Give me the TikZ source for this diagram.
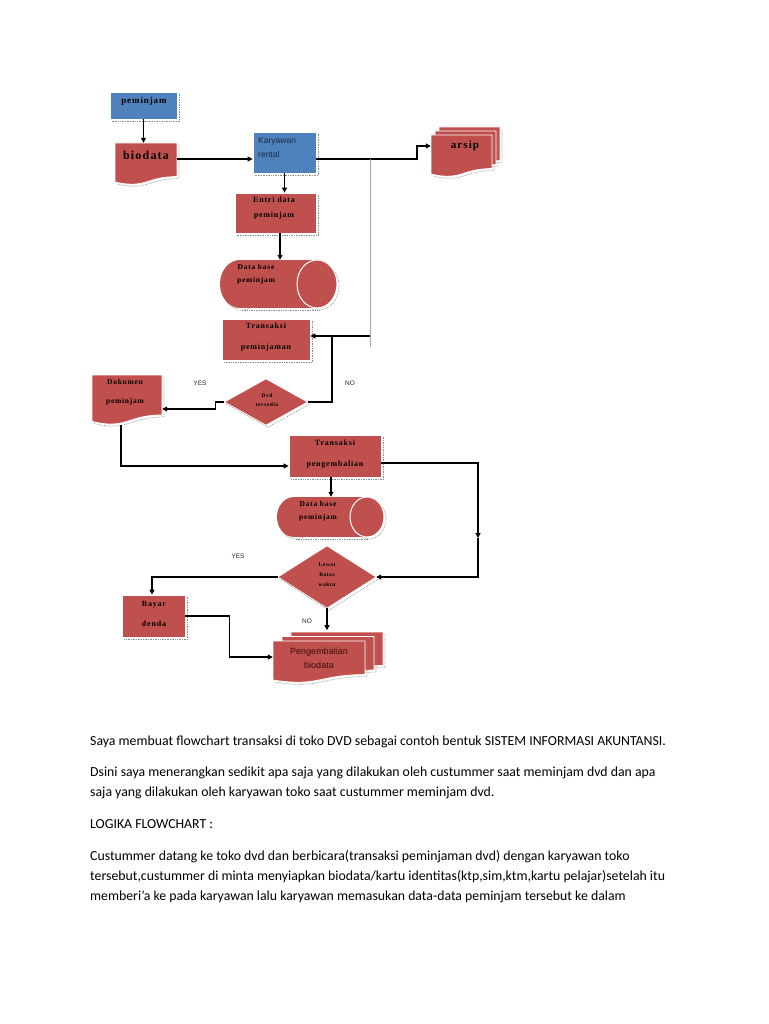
\documentclass[tikz,border=0pt]{standalone}
\usepackage{fontspec}
\setmainfont{Carlito}
\newfontfamily\dserif[LetterSpace=10]{Liberation Serif}
\newfontfamily\dsans{Liberation Sans}
\usetikzlibrary{arrows.meta,calc}
\definecolor{dred}{HTML}{C0504D}
\definecolor{dblue}{HTML}{4F81BD}
\definecolor{shadc}{HTML}{8C8C8C}
\definecolor{kartxt}{HTML}{1C2B45}
\definecolor{pengtxt}{HTML}{3C0C0C}

\newcommand\docshape[4]{%
  \draw[shad] ({#1+2+#3},{#2+2}) -- ({#1+2+#3},{#2+2+0.80*#4}) .. controls ({#1+2+0.5*#3},{#2+2+0.80*#4}) and ({#1+2+0.5*#3},{#2+2+1.10*#4}) .. ({#1+2},{#2+2+0.93*#4});
  \filldraw[fill=dred, draw=white, line width=0.8pt] (#1,#2) -- ({#1+#3},#2) -- ({#1+#3},{#2+0.80*#4}) .. controls ({#1+0.5*#3},{#2+0.80*#4}) and ({#1+0.5*#3},{#2+1.10*#4}) .. (#1,{#2+0.93*#4}) -- cycle;}

\newcommand\cylshape[5]{%
  \pgfmathsetmacro\cylL{#1+#5}\pgfmathsetmacro\cylR{#1+#3-#5}%
  \pgfmathsetmacro\cylM{#2+#4/2}\pgfmathsetmacro\cylH{#4/2}\pgfmathsetmacro\cylB{#2+#4}%
  \draw[shad] (\cylR+2,\cylM+2) ellipse [x radius=#5pt, y radius=\cylH pt];
  \draw[shad] (\cylL+2,\cylM+2) ellipse [x radius=#5pt, y radius=\cylH pt];
  \draw[shad] (\cylL+2,\cylB+2) -- (\cylR+2,\cylB+2);
  \fill[dred] (\cylL,#2) rectangle (\cylR,\cylB);
  \fill[dred] (\cylL,\cylM) ellipse [x radius=#5pt, y radius=\cylH pt];
  \filldraw[fill=dred, draw=white, line width=1pt] (\cylR,\cylM) ellipse [x radius=#5pt, y radius=\cylH pt];}

\newcommand\rshadow[1]{\draw[shad] ([xshift=2pt,yshift=-2pt]#1.north east) -- ([xshift=2pt,yshift=-2pt]#1.south east) -- ([xshift=2pt,yshift=-2pt]#1.south west);}
\newcommand\dshadow[1]{\draw[shad] ([xshift=2pt,yshift=-2pt]#1.west) -- ([xshift=2pt,yshift=-2pt]#1.south) -- ([xshift=2pt,yshift=-2pt]#1.east);}

\begin{document}
\begin{tikzpicture}[x=1pt,y=-1pt,
  shad/.style={draw=shadc, densely dotted, line width=0.7pt},
  rbox/.style={rectangle, inner sep=0pt, draw=white, line width=0.8pt},
  area/.style={rectangle, inner sep=0pt},
  tx/.style={inner sep=0pt, align=center, text=black},
  lbl/.style={inner sep=0pt, text=black!85, font=\dsans\fontsize{6.5}{7}\selectfont},
  ln/.style={line width=1.1pt, draw=black},
  arr/.style={ln, -{Triangle[length=5pt,width=5pt]}},
  body/.style={inner sep=0pt, anchor=base west, font=\fontsize{13.8}{16}\selectfont}]
\fill[white] (0,0) rectangle (768,1024);
\path[use as bounding box] (0,0) rectangle (768,1024);

% peminjam
\node[rbox, fill=dblue, minimum width=67, minimum height=27] (pem) at (143.5,105.5) {};
\rshadow{pem}
\node[tx, font=\dserif\bfseries\fontsize{9}{10}\selectfont] (pemt) at (144,101) {peminjam};

% biodata
\docshape{115}{143}{62}{42}
\node[area, minimum width=62, minimum height=42] (bio) at (146,164) {};
\node[tx, font=\dserif\bfseries\fontsize{12}{13}\selectfont] (biot) at (146,155) {biodata};

% Karyawan rental
\node[rbox, fill=dblue, minimum width=63, minimum height=41] (kar) at (284.5,152.5) {};
\rshadow{kar}
\node[tx, align=left, anchor=west, text=kartxt, font=\dsans\fontsize{8.5}{14}\selectfont] (kart) at (258,148) {Karyawan\\rental};

% arsip
\docshape{439}{127}{61}{42}
\docshape{435}{131}{61}{42}
\docshape{431}{135}{61}{42}
\node[area, minimum width=61, minimum height=42] (arsip) at (461.5,156) {};
\node[tx, font=\dserif\bfseries\fontsize{11}{12}\selectfont] (arsipt) at (465,146) {arsip};

% Entri data
\node[rbox, fill=dred, minimum width=81, minimum height=40] (ent) at (275.5,213) {};
\rshadow{ent}
\node[tx, font=\dserif\bfseries\fontsize{8}{15}\selectfont] (entt) at (274,208.5) {Entri data\\peminjam};

% Data base 1
\cylshape{220}{260}{117}{48}{20}
\node[area, minimum width=117, minimum height=48] (db1) at (278.5,284) {};
\node[tx, font=\dserif\bfseries\fontsize{7.5}{13}\selectfont] (db1t) at (256,274.5) {Data base\\peminjam};

% Transaksi peminjaman
\node[rbox, fill=dred, minimum width=88, minimum height=41] (trp) at (266,339.5) {};
\rshadow{trp}
\node[tx, font=\dserif\bfseries\fontsize{8}{21}\selectfont] (trpt) at (266,337.5) {Transaksi\\peminjaman};

% decision 1
\node[area, minimum width=83, minimum height=46] (d1) at (266,402) {};
\filldraw[fill=dred, draw=white, line width=0.8pt] (d1.north) -- (d1.east) -- (d1.south) -- (d1.west) -- cycle;
\dshadow{d1}
\node[tx, font=\dserif\bfseries\fontsize{5.5}{9}\selectfont] (d1t) at (267,400.5) {Dvd\\tersedia};

% Dokumen peminjam
\docshape{92}{375}{70}{50}
\node[area, minimum width=70, minimum height=50] (dok) at (127,400) {};
\node[tx, font=\dserif\bfseries\fontsize{7.5}{19}\selectfont] (dokt) at (125,392.5) {Dokumen\\peminjam};

% Transaksi pengembalian
\node[rbox, fill=dred, minimum width=92, minimum height=42] (tpg) at (335,456) {};
\rshadow{tpg}
\node[tx, font=\dserif\bfseries\fontsize{8}{21}\selectfont] (tpgt) at (335,454.5) {Transaksi\\pengembalian};

% Data base 2
\cylshape{277}{497}{107}{40}{17}
\node[area, minimum width=107, minimum height=40] (db2) at (330.5,517) {};
\node[tx, font=\dserif\bfseries\fontsize{7.5}{13}\selectfont] (db2t) at (318,511.5) {Data base\\peminjam};

% decision 2
\node[area, minimum width=98, minimum height=62] (d2) at (327,577) {};
\filldraw[fill=dred, draw=white, line width=0.8pt] (d2.north) -- (d2.east) -- (d2.south) -- (d2.west) -- cycle;
\dshadow{d2}
\node[tx, font=\dserif\bfseries\fontsize{5.5}{10}\selectfont] (d2t) at (327,575) {Lewat\\Batas\\waktu};

% Bayar denda
\node[rbox, fill=dred, minimum width=63, minimum height=42] (bay) at (153.5,616) {};
\rshadow{bay}
\node[tx, font=\dserif\bfseries\fontsize{8}{20}\selectfont] (bayt) at (154,614) {Bayar\\denda};

% Pengembalian biodata
\docshape{291}{632}{92}{42}
\docshape{282}{636.5}{92}{42}
\docshape{273}{641}{92}{42}
\node[area, minimum width=92, minimum height=42] (peng) at (319,662) {};
\node[tx, text=pengtxt, font=\dsans\fontsize{9}{14}\selectfont] (pengt) at (319,658) {Pengembalian\\biodata};

% labels
\node[lbl] (yes1) at (200,383) {YES};
\node[lbl] (no1) at (350,383) {NO};
\node[lbl] (yes2) at (238,556) {YES};
\node[lbl] (no2) at (307,621) {NO};

% junction coordinates
\coordinate (j1) at (417,159);
\coordinate (j2) at (370,159);
\coordinate (g2) at (370,347);
\coordinate (j3) at (370,336);
\coordinate (j4) at (332,336);
\coordinate (j5) at (478,463);
\coordinate (j6) at (478,538);

% connectors
\draw[arr] (pem.south) -- (pem.south |- bio.north);
\draw[arr] ([yshift=5pt]bio.east) -- ([yshift=5pt]bio.east -| kar.west);
\draw[arr] ([yshift=-6.5pt]kar.east) -- (j1) |- ([yshift=10pt]arsip.west);
\draw[arr] (kar.south) -- (kar.south |- ent.north);
\draw[arr] ([xshift=4.5pt]ent.south) -- ([xshift=4.5pt]ent.south |- db1.north);
\draw[draw=black!35, line width=1pt] (j2) -- (g2);
\draw[arr] (j3) -- (j3 -| trp.east);
\draw[ln] (j4) |- (d1.east);
\draw[arr] (d1.west) -- ++(-9,0) |- ([yshift=-9pt]dok.east);
\draw[arr] ([xshift=-6pt]dok.south) |- ([yshift=-10pt]tpg.west);
\draw[arr] ([yshift=-7pt]tpg.east) -- (j5) -- (j6);
\draw[arr] (j6) |- (d2.east);
\draw[arr] ([xshift=-4pt]tpg.south) -- ([xshift=-4pt]tpg.south |- db2.north);
\draw[arr] (d2.west) -| ([xshift=-1.5pt]bay.north);
\draw[arr] (bay.east) -- ++(44,0) |- ([yshift=5pt]peng.west);
\draw[arr] (d2.south) -- ++(0,22);

% body text
\node[body] (t1) at (90,745) {Saya membuat flowchart transaksi di toko DVD sebagai contoh bentuk SISTEM INFORMASI AKUNTANSI.};
\node[body] (t2) at (90,776) {Dsini saya menerangkan sedikit apa saja yang dilakukan oleh custummer saat meminjam dvd dan apa};
\node[body] (t3) at (90,796) {saja yang dilakukan oleh karyawan toko saat custummer meminjam dvd.};
\node[body] (t4) at (90,828) {LOGIKA FLOWCHART :};
\node[body] (t5) at (90,860) {Custummer datang ke toko dvd dan berbicara(transaksi peminjaman dvd) dengan karyawan toko};
\node[body] (t6) at (90,880) {tersebut,custummer di minta menyiapkan biodata/kartu identitas(ktp,sim,ktm,kartu pelajar)setelah itu};
\node[body] (t7) at (90,900) {memberi’a ke pada karyawan lalu karyawan memasukan data-data peminjam tersebut ke dalam};
\end{tikzpicture}
\end{document}
